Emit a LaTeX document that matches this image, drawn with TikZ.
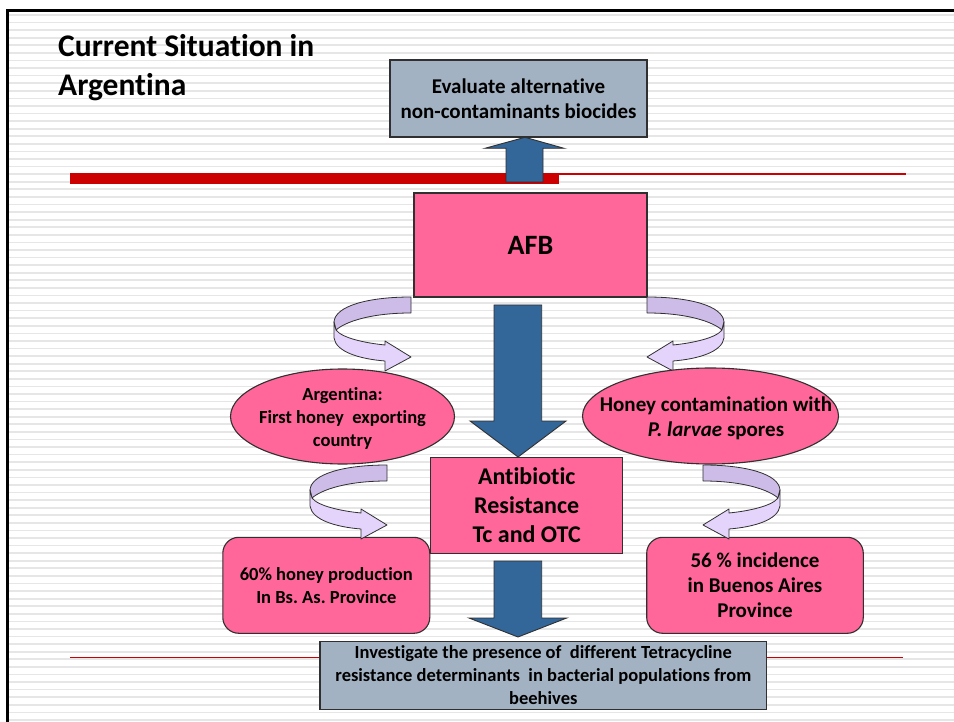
\documentclass[tikz,border=0pt]{standalone}
\usepackage{fontspec}
\setmainfont{Carlito}[Ligatures={NoCommon,NoRequired,NoContextual}]
\usetikzlibrary{shapes.geometric}
\frenchspacing
\definecolor{pinkbox}{HTML}{FF6699}
\definecolor{graybox}{HTML}{A3B2C2}
\definecolor{bluearrow}{HTML}{336699}
\definecolor{purpleback}{HTML}{CDBCE8}
\definecolor{purplefront}{HTML}{E4D4FB}
\definecolor{redline}{HTML}{CC0000}
\definecolor{stripecol}{HTML}{E6E6E6}
\definecolor{edgecol}{HTML}{303030}
\tikzset{
  curvarrow/.pic={
    \filldraw[fill=purpleback, draw=edgecol, line width=0.8pt, line join=round]
      (0,0) .. controls (-43,0) and (-76,9) .. (-77,25) -- (-75,33)
      .. controls (-66,25) and (-41,16) .. (0,16) -- cycle;
    \filldraw[fill=purplefront, draw=edgecol, line width=0.8pt, line join=round]
      (-77,25) -- (-77,41) .. controls (-75,55) and (-51,62) .. (-26,64)
      -- (-26,74) -- (0,60) -- (-26,44) -- (-26,48)
      .. controls (-46,46) and (-69,41) .. (-75,33) -- cycle;
  }
}
\begin{document}
\frenchspacing
\begin{tikzpicture}[x=1pt,y=-1pt,
  stripe/.style={draw=stripecol, line width=1.7pt},
  boxbase/.style={draw=edgecol, line width=1.1pt, inner sep=0pt, align=center, text=black},
  pinkrect/.style={boxbase, fill=pinkbox},
  grayrect/.style={boxbase, fill=graybox},
  pinkround/.style={boxbase, fill=pinkbox, rounded corners=16pt},
  pinkell/.style={ellipse, draw=edgecol, line width=1.1pt, fill=pinkbox, inner sep=0pt},
  blockarrow/.style={fill=bluearrow, draw=edgecol, line width=0.9pt, line join=miter},
  txt/.style={align=center, inner sep=0pt, text=black},
  ftitle/.style={font=\bfseries\fontsize{31.5}{38}\selectfont},
  fa/.style={font=\bfseries\fontsize{21}{25}\selectfont},
  fb/.style={font=\bfseries\fontsize{18.5}{23}\selectfont},
  fc/.style={font=\bfseries\fontsize{24}{29}\selectfont},
  fafb/.style={font=\bfseries\fontsize{28}{32}\selectfont}
]
\useasboundingbox (0,0) rectangle (954,722);
\fill[white] (0,0) rectangle (954,722);
% background stripes
\foreach \i in {0,...,93} {
  \draw[stripe] (9,{15+7.58*\i}) -- (954,{15+7.58*\i});
}
% frame
\draw[line width=2.7pt] (7.5,722) -- (7.5,10.3) -- (954,10.3);
% red rules
\fill[redline] (70,173) rectangle (559,184);
\draw[redline, line width=2pt] (559,174.2) -- (906,174.2);
\draw[redline, line width=1.2pt] (70,657.3) -- (903,657.3);

% title
\node[ftitle, anchor=base west, inner sep=0pt] (title1) at (58,56.7) {Current Situation in};
\node[ftitle, anchor=base west, inner sep=0pt] (title2) at (58,95.3) {Argentina};

% boxes
\node[grayrect, fa, minimum width=257pt, minimum height=77pt] (eval) at (518.5,98.5)
  {Evaluate alternative\\non-contaminants biocides};
\node[pinkrect, fafb, minimum width=233pt, minimum height=104pt] (afb) at (530.5,245) {AFB};
\node[pinkrect, fc, minimum width=192pt, minimum height=96pt] (anti) at (526.7,505.3)
  {Antibiotic\\Resistance\\Tc and OTC};
\node[pinkround, fb, minimum width=207pt, minimum height=96pt] (prod) at (326.3,585.3)
  {60\% honey production\\In Bs. As. Province};
\node[pinkround, fa, minimum width=216.6pt, minimum height=96pt] (inc) at (755,585.3)
  {56 \% incidence\\ in Buenos Aires\\Province};
\node[grayrect, fb, minimum width=446.7pt, minimum height=68pt] (invest) at (543.3,675.3)
  {Investigate the presence of\ \ different Tetracycline\\resistance determinants\ \ in bacterial populations from\\beehives};

% block arrows
\draw[blockarrow] (506,182) -- (506,148.3) -- (485,148.3) -- (525,137.3) -- (564,148.3)
  -- (543,148.3) -- (543,182) -- cycle;
\draw[blockarrow] (494,305) -- (541.7,305) -- (541.7,421) -- (566,421) -- (518,457)
  -- (470,421) -- (494,421) -- cycle;
\draw[blockarrow] (494,561) -- (541.7,561) -- (541.7,618) -- (566.7,618) -- (518,637)
  -- (469,618) -- (494,618) -- cycle;

% curved arrows
\pic at (411,297) {curvarrow};
\pic[xscale=-1] at (647,297) {curvarrow};
\pic at (387,465) {curvarrow};
\pic[xscale=-1] at (703,465) {curvarrow};

% ellipses
\node[pinkell, minimum width=224pt, minimum height=95pt] (argent) at (342.5,416.5) {};
\node[txt, fb] (argenttxt) at (342.5,418) {Argentina:\\First honey\ \ exporting\\country};
\node[pinkell, minimum width=256pt, minimum height=96pt] (contam) at (710.5,416) {};
\node[txt, fa] (contamtxt) at (716,418) {Honey contamination with\\\textit{P. larvae} spores};
\end{tikzpicture}
\end{document}
